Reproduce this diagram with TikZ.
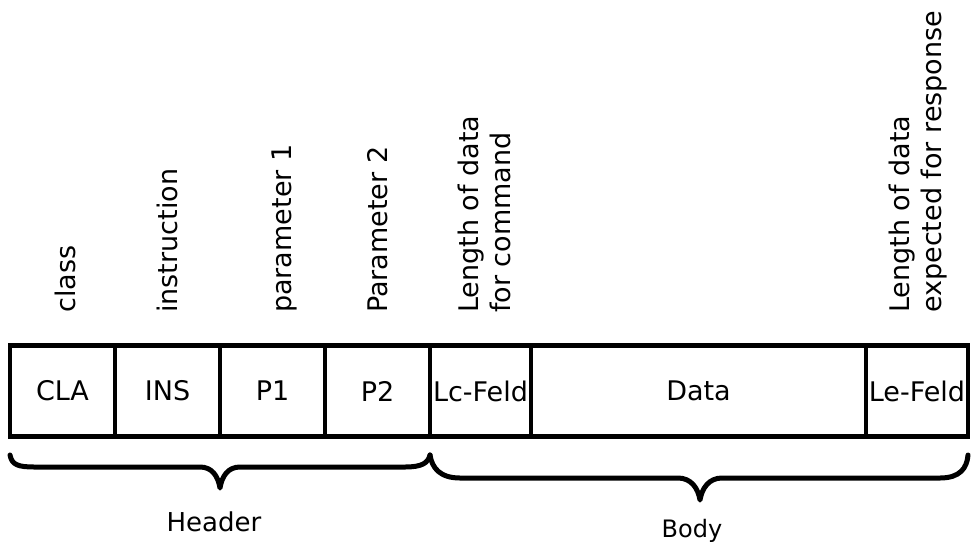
\documentclass[tikz,border=0pt]{standalone}
\usepackage{fontspec}
\setmainfont{DejaVu Sans}
\begin{document}
\begin{tikzpicture}[x=1pt,y=-1pt,
  cell/.style={draw=black, line width=4.5pt, minimum height=91pt, inner sep=0pt,
               font=\fontsize{27}{30}\selectfont},
  vlabel/.style={rotate=90, anchor=west, inner sep=0pt, align=left,
                 font=\fontsize{27}{32}\selectfont},
  brace/.style={draw=black, line width=5pt, line cap=round, line join=round},
  grouplabel/.style={inner sep=0pt}]
\useasboundingbox (0,0) rectangle (973,544);

% command fields
\node[cell, minimum width=105pt] (cla)  at (62.5,391)  {CLA};
\node[cell, minimum width=105pt] (ins)  at (167.5,391) {INS};
\node[cell, minimum width=105pt] (p1)   at (272.5,391) {P1};
\node[cell, minimum width=105pt] (p2)   at (377.5,391) {P2};
\node[cell, minimum width=101pt] (lc)   at (480.5,391) {Lc-Feld};
\node[cell, minimum width=335pt] (data) at (698.5,391) {Data};
\node[cell, minimum width=102pt] (le)   at (917,391)   {Le-Feld};

% field descriptions
\node[vlabel] (dcla) at (65,313)  {class};
\node[vlabel] (dins) at (167,313) {instruction};
\node[vlabel] (dp1)  at (284,313) {parameter 1};
\node[vlabel] (dp2)  at (378,313) {Parameter 2};
\node[vlabel] (dlc)  at (484,313) {Length of data\\for command};
\node[vlabel] (dle)  at (918,313) {Length of data\\expected for response};

% header brace
\draw[brace] (10,455) .. controls (12,465) and (18,467) .. (35,467)
  -- (200,467) .. controls (212,467) and (218,476) .. (220,488)
  .. controls (222,476) and (228,467) .. (240,467)
  -- (405,467) .. controls (422,467) and (428,463) .. (430,455);
% body brace
\draw[brace] (430,455) .. controls (432,468) and (440,478) .. (460,478)
  -- (678,478) .. controls (691,478) and (698,488) .. (700,500)
  .. controls (702,488) and (709,478) .. (722,478)
  -- (940,478) .. controls (960,478) and (967,468) .. (968,455);

\node[grouplabel, font=\fontsize{26}{30}\selectfont] (header) at (214,522) {Header};
\node[grouplabel, font=\fontsize{24}{28}\selectfont] (body)   at (692,531) {Body};
\end{tikzpicture}
\end{document}
